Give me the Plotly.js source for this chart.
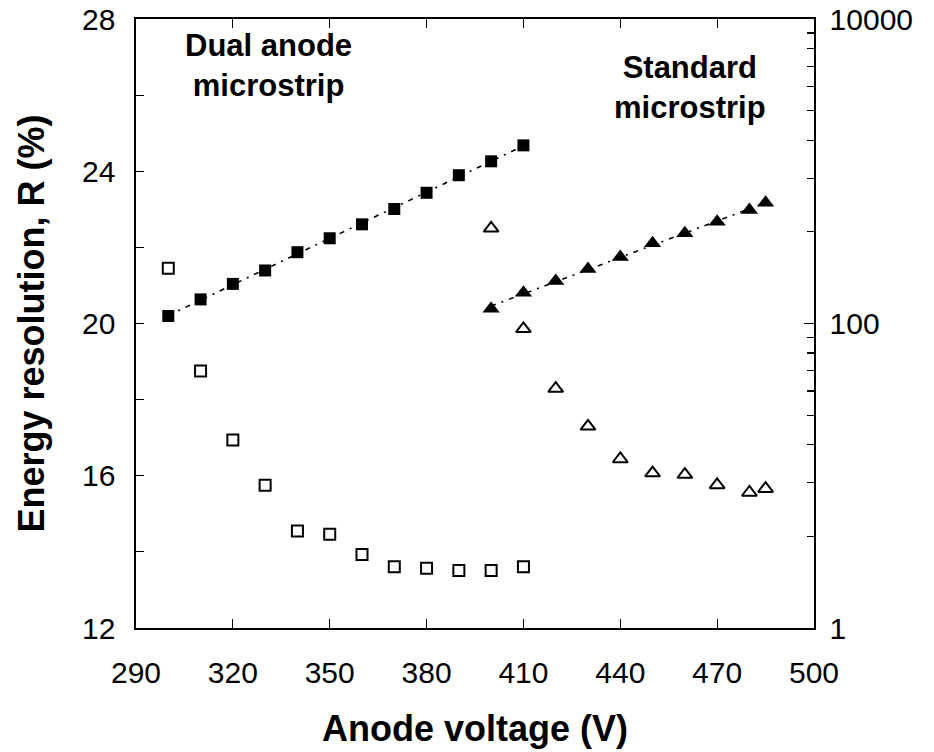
<!DOCTYPE html>
<html>
<head>
<meta charset="utf-8">
<script src="https://cdn.plot.ly/plotly-3.0.1.min.js"></script>
<style>
  html, body { margin: 0; padding: 0; background: #fff; }
  #chart { width: 934px; height: 752px; }
</style>
</head>
<body>
<div id="chart"></div>
<script>
// ---- Data ----
const voltsDual = [300, 310, 320, 330, 340, 350, 360, 370, 380, 390, 400, 410];
const resDual   = [21.45, 18.75, 16.94, 15.75, 14.55, 14.46, 13.93, 13.61, 13.57, 13.51, 13.51, 13.61];
const gainDual  = [112, 144, 182, 223, 294, 363, 448, 565, 722, 942, 1162, 1479];

const voltsStd = [400, 410, 420, 430, 440, 450, 460, 470, 480, 485];
const resStd   = [22.50, 19.86, 18.29, 17.30, 16.44, 16.07, 16.03, 15.76, 15.56, 15.66];
const gainStd  = [125, 159, 190, 228, 273, 337, 392, 466, 556, 621];

const leftTicks   = [12, 16, 20, 24, 28];
const leftMinor   = [14, 18, 22, 26];
const rightTicks  = [1, 100, 10000];
const rightLabels = ['1', '100', '10000'];
const rightMinor  = [4, 9, 16, 25, 36, 49, 64, 81, 400, 900, 1600, 2500, 3600, 4900, 6400, 8100];

// exponential least-squares fit (straight line on log axis)
function expFit(xs, ys) {
  const n = xs.length;
  const ly = ys.map(v => Math.log10(v));
  const mx = xs.reduce((a, b) => a + b, 0) / n;
  const my = ly.reduce((a, b) => a + b, 0) / n;
  let sxy = 0, sxx = 0;
  for (let i = 0; i < n; i++) { sxy += (xs[i] - mx) * (ly[i] - my); sxx += (xs[i] - mx) ** 2; }
  const b = sxy / sxx, a = my - b * mx;
  const fx = [xs[0], xs[n - 1]];
  return { x: fx, y: fx.map(x => Math.pow(10, a + b * x)) };
}
const fitDual = expFit(voltsDual, gainDual);
const fitStd  = expFit(voltsStd, gainStd);

const FONT = 'Liberation Sans, Arial, Helvetica, sans-serif';
const fitLine = { color: '#000', width: 1.6, dash: '5px,6px,2px,6px' };

const traces = [
  { x: fitDual.x, y: fitDual.y, yaxis: 'y2', mode: 'lines', line: fitLine, hoverinfo: 'skip' },
  { x: fitStd.x,  y: fitStd.y,  yaxis: 'y2', mode: 'lines', line: fitLine, hoverinfo: 'skip' },
  { x: voltsDual, y: resDual, yaxis: 'y', mode: 'markers',
    marker: { symbol: 'square-open', size: 11, color: '#000', line: { width: 2, color: '#000' } } },
  { x: voltsDual, y: gainDual, yaxis: 'y2', mode: 'markers',
    marker: { symbol: 'square', size: 12, color: '#000' } },
  { x: voltsStd, y: resStd, yaxis: 'y', mode: 'markers',
    marker: { symbol: 'triangle-up-open', size: 13, color: '#000', line: { width: 2, color: '#000' } } },
  { x: voltsStd, y: gainStd, yaxis: 'y2', mode: 'markers',
    marker: { symbol: 'triangle-up', size: 15, color: '#000' } }
];

const layout = {
  width: 934, height: 752,
  margin: { l: 136, r: 120, t: 19, b: 124, pad: 0 },
  paper_bgcolor: '#fff', plot_bgcolor: '#fff',
  showlegend: false,
  font: { family: FONT, color: '#000' },
  xaxis: {
    range: [290, 500], tick0: 290, dtick: 30,
    ticks: 'inside', ticklen: 9, tickwidth: 1.2, tickcolor: '#000',
    showline: true, linewidth: 1.6, linecolor: '#000', mirror: 'ticks',
    showgrid: false, zeroline: false,
    tickfont: { size: 30, family: FONT },
    ticklabelstandoff: 17,
    title: { text: '<b>Anode voltage (V)</b>', font: { size: 36, family: FONT }, standoff: 28 }
  },
  yaxis: {
    range: [12, 28], tickmode: 'array', tickvals: leftTicks,
    ticks: 'inside', ticklen: 8, tickwidth: 1.2, tickcolor: '#000',
    minor: { tickmode: 'array', tickvals: leftMinor, ticks: 'inside', ticklen: 8, tickwidth: 1.2, tickcolor: '#000', showgrid: false },
    showline: true, linewidth: 1.6, linecolor: '#000', mirror: false,
    showgrid: false, zeroline: false,
    tickfont: { size: 30, family: FONT },
    ticklabelstandoff: 13,
    title: { text: '<b>Energy resolution, R (%)</b>', font: { size: 36, family: FONT }, standoff: 26 }
  },
  yaxis2: {
    type: 'log', range: [0, 4], overlaying: 'y', side: 'right',
    tickmode: 'array', tickvals: rightTicks, ticktext: rightLabels,
    ticks: 'inside', ticklen: 10, tickwidth: 1.2, tickcolor: '#000',
    minor: { tickmode: 'array', tickvals: rightMinor, ticks: 'inside', ticklen: 7, tickwidth: 1.2, tickcolor: '#000', showgrid: false },
    showline: true, linewidth: 1.6, linecolor: '#000',
    showgrid: false, zeroline: false,
    tickfont: { size: 30, family: FONT },
    ticklabelstandoff: 8
  },
  annotations: [
    { text: '<b>Dual anode<br>microstrip</b>', xref: 'paper', yref: 'paper', x: 0.195, y: 0.923,
      xanchor: 'center', yanchor: 'middle', showarrow: false, font: { size: 31, family: FONT, color: '#000' } },
    { text: '<b>Standard<br>microstrip</b>', xref: 'paper', yref: 'paper', x: 0.817, y: 0.887,
      xanchor: 'center', yanchor: 'middle', showarrow: false, font: { size: 31, family: FONT, color: '#000' } }
  ]
};

Plotly.newPlot('chart', traces, layout, { displayModeBar: false, staticPlot: true });
</script>
</body>
</html>
